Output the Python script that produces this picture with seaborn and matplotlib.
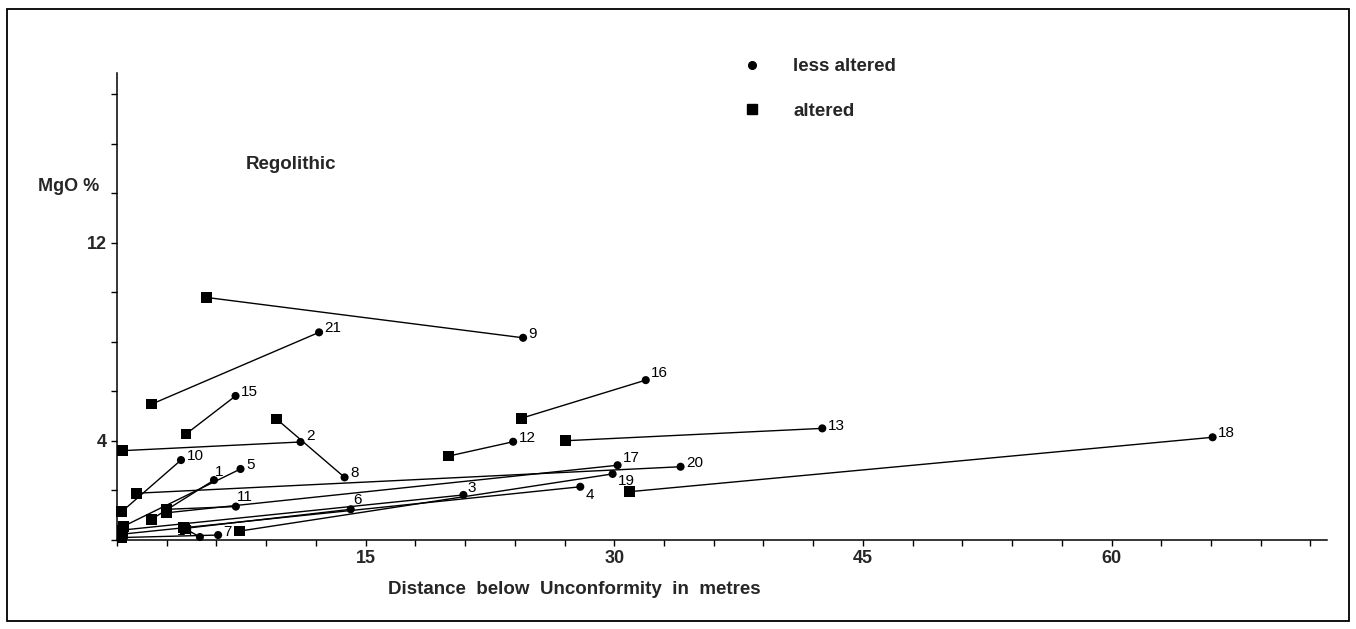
import numpy as np
import pandas as pd
import matplotlib
matplotlib.use("Agg")
import matplotlib.pyplot as plt
import seaborn as sns
from matplotlib.lines import Line2D
from matplotlib.patches import Rectangle
from matplotlib.ticker import FixedLocator, MultipleLocator

# ---------------- data ----------------
sample_ids = list(range(1, 22))
less_x = [5.85, 11.07, 20.9, 27.95, 7.45, 14.1, 6.1, 13.73, 24.5, 3.86, 7.17,
          23.9, 42.55, 5.0, 7.15, 31.9, 30.2, 66.1, 29.9, 34.0, 12.19]
less_y = [2.42, 3.96, 1.82, 2.15, 2.87, 1.24, 0.2, 2.53, 8.17, 3.23, 1.35,
          3.97, 4.51, 0.12, 5.82, 6.46, 3.02, 4.15, 2.67, 2.96, 8.39]
alt_x = [2.09, 0.34, 0.3, 0.36, 0.38, 4.1, 0.3, 9.62, 5.4, 0.28, 2.99,
         20.0, 27.04, 4.0, 4.16, 24.4, 3.0, 30.9, 7.4, 1.19, 2.09]
alt_y = [0.84, 3.61, 0.40, 0.24, 0.55, 0.47, 0.1, 4.89, 9.8, 1.14, 1.24,
         3.39, 4.01, 0.5, 4.28, 4.92, 1.1, 1.95, 0.36, 1.89, 5.49]
y_tick_labels = [4, 12]
x_tick_labels = [15, 30, 45, 60]

# label offsets (points) for the sample numbers
label_offsets = {1: (1, 6), 2: (4, 4), 3: (3, 5), 4: (4, -6), 5: (4, 3), 6: (2, 7),
                 7: (4, 2), 8: (4, 3), 9: (4, 3), 10: (4, 3), 11: (1, 7),
                 12: (4, 3), 13: (4, 2), 14: (-4, 4), 15: (4, 3), 16: (4, 5),
                 17: (4, 5), 18: (4, 3), 19: (4, -5), 20: (4, 3), 21: (4, 3)}

rows = []
for i, sid in enumerate(sample_ids):
    rows.append(dict(sample=sid, x=alt_x[i], y=alt_y[i], state="altered"))
    rows.append(dict(sample=sid, x=less_x[i], y=less_y[i], state="less altered"))
df = pd.DataFrame(rows)

# ---------------- style ----------------
sns.set_theme(style="white")
plt.rcParams["font.family"] = ["Liberation Sans Narrow", "Liberation Sans", "DejaVu Sans"]

fig = plt.figure(figsize=(13.56, 6.29), dpi=100)
ax = fig.add_axes([0.0863, 0.1415, 0.8923, 0.7425])

sns.lineplot(data=df, x="x", y="y", units="sample", estimator=None, sort=False,
             color="black", linewidth=1.0, ax=ax, legend=False)
sns.scatterplot(data=df, x="x", y="y", style="state", size="state",
                markers={"less altered": "o", "altered": "s"},
                sizes={"less altered": 34, "altered": 60},
                color="black", edgecolor="black", linewidth=0, ax=ax, legend=False)
for coll in ax.collections:
    coll.set_clip_on(False)
for ln in ax.lines:
    ln.set_clip_on(False)

for i, sid in enumerate(sample_ids):
    dx, dy = label_offsets[sid]
    ha = "right" if dx < 0 else "left"
    ax.annotate(str(sid), (less_x[i], less_y[i]), xytext=(dx, dy),
                textcoords="offset points", ha=ha, va="center",
                fontsize=11, color="black",
                family=["Liberation Sans", "DejaVu Sans"])

ax.set_xlim(0, 73)
ax.set_ylim(0, 18.87)
sns.despine(ax=ax)
for side in ["left", "bottom"]:
    ax.spines[side].set_color("black")
    ax.spines[side].set_linewidth(1.1)

ax.xaxis.set_major_locator(FixedLocator(x_tick_labels))
ax.xaxis.set_minor_locator(MultipleLocator(3))
ax.yaxis.set_major_locator(FixedLocator(y_tick_labels))
ax.yaxis.set_minor_locator(MultipleLocator(2))
ax.set_xticklabels([str(v) for v in x_tick_labels])
ax.set_yticklabels([str(v) for v in y_tick_labels])
ax.tick_params(axis="both", which="both", direction="out", color="black",
               width=1.0, length=4.5, labelsize=13, pad=3, bottom=True, left=True)
for lbl in ax.get_xticklabels() + ax.get_yticklabels():
    lbl.set_fontweight("bold")
ax.set_xlabel("")
ax.set_ylabel("")

ax.text(0.378, -0.107, "Distance  below  Unconformity  in  metres",
        transform=ax.transAxes, ha="center", va="center",
        fontsize=13.5, fontweight="bold")
ax.text(-0.0653, 0.756, "MgO %", transform=ax.transAxes, ha="left", va="center",
        fontsize=13, fontweight="bold")
ax.text(0.106, 0.803, "Regolithic", transform=ax.transAxes, ha="left",
        va="center", fontsize=13.5, fontweight="bold")

handles = [Line2D([], [], marker="o", linestyle="none", color="black", markersize=5.5),
           Line2D([], [], marker="s", linestyle="none", color="black", markersize=6.5)]
ax.legend(handles, ["less altered", "altered"], frameon=False, loc="upper left",
          bbox_to_anchor=(0.503, 1.068), handlelength=1.0, handletextpad=1.7,
          labelspacing=1.45, prop=dict(size=13.5, weight="bold"))

fig.add_artist(Rectangle((0.0052, 0.0127), 0.9897, 0.973, transform=fig.transFigure,
                         fill=False, edgecolor="black", linewidth=1.3))

fig.savefig("out.png", dpi=100)
